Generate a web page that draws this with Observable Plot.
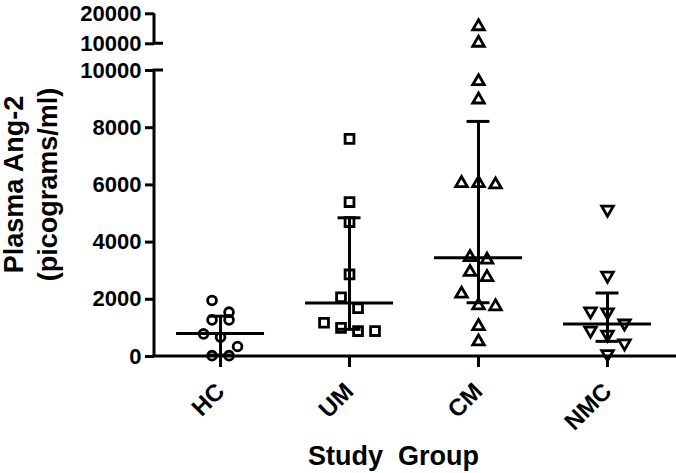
<!DOCTYPE html>
<html>
<head>
<meta charset="utf-8">
<script src="https://cdn.jsdelivr.net/npm/d3@7"></script>
<script src="https://cdn.jsdelivr.net/npm/@observablehq/plot@0.6"></script>
<style>
  html, body { margin: 0; padding: 0; background: #fff; }
  svg text { white-space: pre; }
</style>
</head>
<body>
<div id="chart"></div>
<script>
// ---- data ----
const groups = ["HC", "UM", "CM", "NMC"];
const hcValues = [1960, 1550, 1280, 1280, 790, 675, 350, 30, 30];
const umValues = [7610, 5400, 4700, 2870, 2070, 1690, 1180, 1000, 890, 890];
const cmValues = [15800, 10300, 9620, 8980, 6060, 6010, 6060, 3470, 3380, 2950, 2770, 2190, 1780, 1750, 1060, 520];
const nmcValues = [5140, 2830, 1580, 1550, 1160, 910, 770, 465, 90];
const medians = [800, 1870, 3450, 1140];
const lowerQ = [50, 950, 1880, 530];
const upperQ = [1410, 4850, 8220, 2220];
const yTicksLower = [0, 2000, 4000, 6000, 8000, 10000];
const yTicksUpper = [10000, 20000];
const yTitle = ["Plasma Ang-2", "(picograms/ml)"];
const xTitle = "Study  Group";

// ---- layout ----
const W = 676, H = 473;
const FONT = "'Liberation Sans', Arial, Helvetica, sans-serif";
const yBreak = yTicksLower[yTicksLower.length - 1];
const yMax = yTicksUpper[yTicksUpper.length - 1];
const EPS = 1e-3;
const upperPos = (v) => (v === yBreak ? v + EPS : v);

const xOpts = {type: "linear", domain: [-0.512, 3.535], range: [154, 676]};
const yOpts = {type: "linear", domain: [0, yBreak, yBreak + EPS, yMax], range: [356, 70, 43.3, 13.3]};
const xS = Plot.scale({x: xOpts});
const yS = Plot.scale({y: yOpts});
const step = xS.apply(1) - xS.apply(0);

// column-scatter layout (Prism-like): points in the same pixel row spread side by side
function spread(values) {
  const items = values.map((v, k) => ({v, k, py: yS.apply(v)})).sort((a, b) => a.py - b.py);
  const rows = [];
  for (const it of items) {
    const row = rows[rows.length - 1];
    if (row && it.py - row[0].py < 13) row.push(it); else rows.push([it]);
  }
  const off = new Array(values.length);
  for (const row of rows) row.forEach((it, j) => (off[it.k] = ((j - (row.length - 1) / 2) * 17) / step));
  return off;
}

const seriesValues = [hcValues, umValues, cmValues, nmcValues];
const points = seriesValues.map((vals, i) => {
  const off = spread(vals);
  return vals.map((v, k) => ({group: groups[i], v, xj: i + off[k]}));
});
const stats = groups.map((g, i) => ({i, median: medians[i], lo: lowerQ[i], hi: upperQ[i]}));

const symbolStyles = [
  {symbol: "circle", r: 4.4, rotate: 0},
  {symbol: "square", r: 5, rotate: 0},
  {symbol: "triangle", r: 4.3, rotate: 0},
  {symbol: "triangle", r: 4.3, rotate: 180}
];

const axisLines = () => {
  const x0 = xOpts.range[0], x1 = xOpts.range[1];
  const g = d3.create("svg:g").attr("fill", "none").attr("stroke", "black").attr("stroke-width", 3);
  g.append("path").attr("d", `M${x0},${yS.apply(0)}V${yS.apply(yBreak)}h9`);
  g.append("path").attr("d", `M${x0},${yS.apply(yMax)}V${yS.apply(yBreak + EPS)}h9`).attr("stroke-linejoin", "miter");
  g.append("path").attr("d", `M${x0 - 1.5},${yS.apply(0)}H${x1}`);
  return g.node();
};

const chart = Plot.plot({
  width: W,
  height: H,
  marginLeft: 154,
  marginRight: 0,
  marginTop: 13,
  marginBottom: H - 356,
  style: {fontFamily: FONT, fontWeight: "bold", color: "black", background: "white", overflow: "visible"},
  x: {...xOpts, axis: null},
  y: {...yOpts, axis: null},
  marks: [
    ...points.map((pts, i) => Plot.dot(pts, {
      x: "xj", y: "v",
      symbol: symbolStyles[i].symbol, r: symbolStyles[i].r, rotate: symbolStyles[i].rotate,
      stroke: "black", strokeWidth: 2.8, fill: "none"
    })),
    Plot.ruleX(stats, {x: "i", y1: "lo", y2: "hi", stroke: "black", strokeWidth: 3}),
    Plot.ruleY(stats, {x1: (d) => d.i - 0.341, x2: (d) => d.i + 0.341, y: "median", stroke: "black", strokeWidth: 3}),
    Plot.ruleY(stats, {x1: (d) => d.i - 0.089, x2: (d) => d.i + 0.089, y: "hi", stroke: "black", strokeWidth: 3}),
    Plot.ruleY(stats, {x1: (d) => d.i - 0.089, x2: (d) => d.i + 0.089, y: "lo", stroke: "black", strokeWidth: 3}),
    axisLines,
    Plot.axisY({
      anchor: "left",
      ticks: [...yTicksLower, ...yTicksUpper.map(upperPos)],
      tickFormat: (d) => String(Math.round(d)),
      tickSize: 9, tickPadding: 4, fontSize: 22, strokeWidth: 3, label: null
    }),
    Plot.axisX({
      anchor: "bottom",
      ticks: groups.map((g, i) => i),
      tickFormat: (i) => groups[i],
      tickSize: 11, tickPadding: 20, tickRotate: -45, fontSize: 24, strokeWidth: 3, label: null
    }),
    Plot.text([xTitle], {frameAnchor: "bottom", dx: -22, dy: 108, fontSize: 27, fontWeight: "bold"}),
    Plot.text([yTitle[0]], {frameAnchor: "left", textAnchor: "middle", y: yBreak / 2, dy: -29, dx: -140.5, rotate: -90, fontSize: 27, fontWeight: "bold"}),
    Plot.text([yTitle[1]], {frameAnchor: "left", textAnchor: "middle", y: yBreak / 2, dy: -29, dx: -106.5, rotate: -90, fontSize: 27, fontWeight: "bold"})
  ]
});
document.getElementById("chart").appendChild(chart);
</script>
</body>
</html>
